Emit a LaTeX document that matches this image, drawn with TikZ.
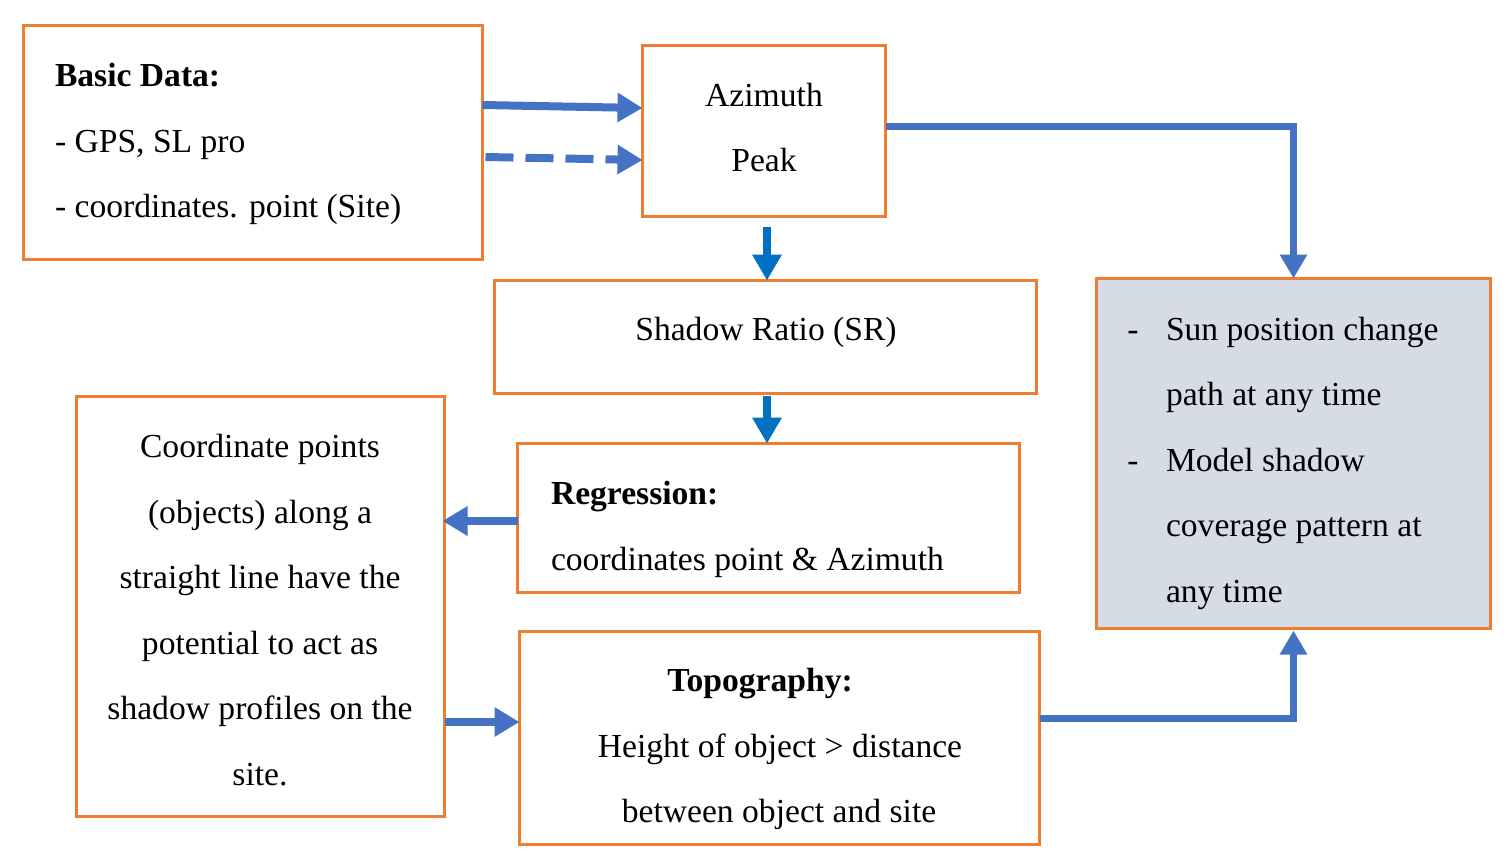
\documentclass[tikz,border=0pt]{standalone}
\usepackage{fontspec}
\setmainfont{Liberation Serif}
\usetikzlibrary{arrows.meta}
\definecolor{boxorange}{HTML}{ED7D31}
\definecolor{arrblue}{HTML}{4472C4}
\definecolor{arrdeep}{HTML}{0070C0}
\definecolor{sunfill}{HTML}{D6DCE5}
\tikzset{
  box/.style={draw=boxorange, line width=3pt, rectangle, inner sep=0pt, outer sep=0pt},
  txt/.style={inner sep=0pt, outer sep=0pt, font=\fontsize{33.6}{40}\selectfont},
  flow/.style={draw=arrblue, line width=8pt, -{Triangle[length=25pt,width=28pt]}},
  flowthin/.style={draw=arrblue, line width=7pt, -{Triangle[length=24pt,width=26pt]}},
  downflow/.style={draw=arrdeep, line width=8pt, -{Triangle[length=26pt,width=28pt]}}
}
\begin{document}
\begin{tikzpicture}[x=1pt,y=-1pt]
\useasboundingbox (0,0) rectangle (1510,860);
% boxes
\node[box, minimum width=459pt, minimum height=234pt] (basic) at (253,142.5) {};
\node[box, minimum width=243pt, minimum height=171pt] (az) at (764,131) {};
\node[box, minimum width=542pt, minimum height=113pt] (sr) at (765.5,337) {};
\node[box, minimum width=502pt, minimum height=149pt] (reg) at (768.5,518) {};
\node[box, minimum width=368pt, minimum height=420pt] (coord) at (260.5,606.5) {};
\node[box, minimum width=520pt, minimum height=213pt] (topo) at (779.5,738) {};
\node[box, fill=sunfill, minimum width=394pt, minimum height=350pt] (sun) at (1293.5,453.5) {};
% texts
\node[txt, anchor=base west] (b1) at (55,86) {\textbf{Basic Data:}};
\node[txt, anchor=base west] (b2) at (55,152) {- GPS, SL pro};
\node[txt, anchor=base west] (b3) at (55,217) {- coordinates. point (Site)};
\node[txt, anchor=base] (a1) at (764,106) {Azimuth};
\node[txt, anchor=base] (a2) at (764,171) {Peak};
\node[txt, anchor=base] (s1) at (766,340) {Shadow Ratio (SR)};
\node[txt, anchor=base west] (r1) at (551,504) {\textbf{Regression:}};
\node[txt, anchor=base west] (r2) at (551,570) {coordinates point \& Azimuth};
\node[txt, anchor=base] (c1) at (260,457) {Coordinate points};
\node[txt, anchor=base] (c2) at (260,523) {(objects) along a};
\node[txt, anchor=base] (c3) at (260,588) {straight line have the};
\node[txt, anchor=base] (c4) at (260,654) {potential to act as};
\node[txt, anchor=base] (c5) at (260,719) {shadow profiles on the};
\node[txt, anchor=base] (c6) at (260,785) {site.};
\node[txt, anchor=base] (t1) at (760,691) {\textbf{Topography:}};
\node[txt, anchor=base] (t2) at (780,757) {Height of object > distance};
\node[txt, anchor=base] (t3) at (779,822) {between object and site};
\node[txt, anchor=base] (d1) at (1133,340) {-};
\node[txt, anchor=base west] (u1) at (1166,340) {Sun position change};
\node[txt, anchor=base west] (u2) at (1166,405) {path at any time};
\node[txt, anchor=base] (d2) at (1133,471) {-};
\node[txt, anchor=base west] (u3) at (1166,471) {Model shadow};
\node[txt, anchor=base west] (u4) at (1166,536) {coverage pattern at};
\node[txt, anchor=base west] (u5) at (1166,602) {any time};
% connectors
\draw[flow] ([yshift=37.5pt]basic.east) -- ([yshift=23pt]az.west);
\draw[flow, dash pattern=on 28pt off 12pt] ([xshift=3pt,yshift=-14.5pt]basic.east) -- ([yshift=-29pt]az.west);
\draw[flowthin] ([yshift=5pt]az.east) -| (sun.north);
\draw[downflow] ([xshift=3pt,yshift=-10pt]az.south) -- ([xshift=3pt]az.south |- sr.north);
\draw[downflow] ([xshift=1.5pt,yshift=-2pt]sr.south) -- ([xshift=1.5pt]sr.south |- reg.north);
\draw[flow] ([yshift=-3pt]reg.west) -- ([xshift=-2pt,yshift=-3pt]coord.east |- reg.west);
\draw[flow] ([yshift=-115.5pt]coord.east) -- (topo.west |- 0,722);
\draw[flowthin] ([yshift=20pt]topo.east) -| ([yshift=-2pt]sun.south);
\end{tikzpicture}
\end{document}
